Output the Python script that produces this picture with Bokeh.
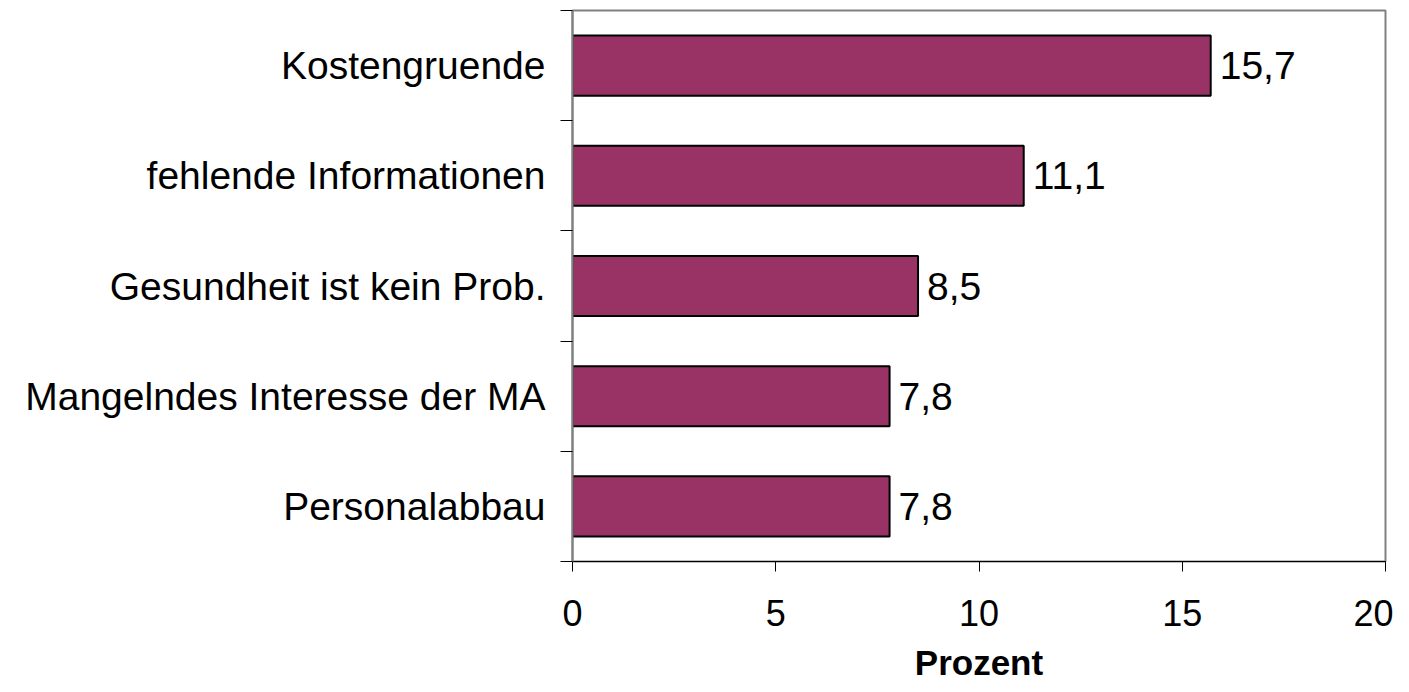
import numpy as np
from bokeh.plotting import figure
from bokeh.models import FixedTicker, ColumnDataSource, Range1d
from bokeh.core.properties import value
from bokeh.embed import file_html
from bokeh.resources import INLINE

# Data (top to bottom in the chart)
categories = ["Kostengruende", "fehlende Informationen", "Gesundheit ist kein Prob.",
              "Mangelndes Interesse der MA", "Personalabbau"]
values = [15.7, 11.1, 8.5, 7.8, 7.8]
x_ticks = [0, 5, 10, 15, 20]

n = len(categories)
pos = [n - i - 0.5 for i in range(n)]
labels = [f"{v:.1f}".replace(".", ",") for v in values]

src = ColumnDataSource(dict(y=pos, v=values, lab=labels))

FONT = "Liberation Sans"

p = figure(width=1393, height=684, output_backend="svg", toolbar_location=None,
           x_range=Range1d(0, 20), y_range=Range1d(0, n),
           min_border_left=572, min_border_top=10, min_border_right=8, min_border_bottom=123)
p.xgrid.visible = False
p.ygrid.visible = False
p.outline_line_color = "#808080"
p.outline_line_width = 2

p.hbar(y="y", right="v", left=0, height=0.545, source=src,
       fill_color="#993366", line_color="black", line_width=2)

p.text(x="v", y="y", text="lab", source=src, x_offset=9,
       text_font=value(FONT), text_font_size="39px",
       text_baseline="middle", text_align="left", text_color="black")

# x axis
p.xaxis.ticker = FixedTicker(ticks=x_ticks)
p.xaxis.major_tick_out = 10
p.xaxis.major_tick_in = 0
p.xaxis.minor_tick_out = 0
p.xaxis.minor_tick_in = 0
p.xaxis.major_tick_line_color = "black"
p.xaxis.axis_line_color = "black"
p.xaxis.axis_line_width = 1
p.xaxis.major_label_text_font = FONT
p.xaxis.major_label_text_font_size = "36px"
p.xaxis.major_label_text_color = "black"
p.xaxis.major_label_standoff = 28
p.xaxis.axis_label = "Prozent"
p.xaxis.axis_label_text_font = FONT
p.xaxis.axis_label_text_font_size = "35px"
p.xaxis.axis_label_text_font_style = "bold"
p.xaxis.axis_label_text_color = "black"
p.xaxis.axis_label_standoff = 14

# y axis: labels at band centres, tick marks at band boundaries
p.yaxis.ticker = FixedTicker(ticks=pos, minor_ticks=list(range(n + 1)))
p.yaxis.major_label_overrides = {float(y): c for y, c in zip(pos, categories)}
p.yaxis.major_tick_out = 0
p.yaxis.major_tick_in = 0
p.yaxis.minor_tick_out = 12
p.yaxis.minor_tick_in = 0
p.yaxis.minor_tick_line_color = "black"
p.yaxis.axis_line_color = "#808080"
p.yaxis.axis_line_width = 2
p.yaxis.major_label_text_font = FONT
p.yaxis.major_label_text_font_size = "39px"
p.yaxis.major_label_text_color = "black"
p.yaxis.major_label_standoff = 15

open("out.html", "w").write(file_html(p, INLINE))
